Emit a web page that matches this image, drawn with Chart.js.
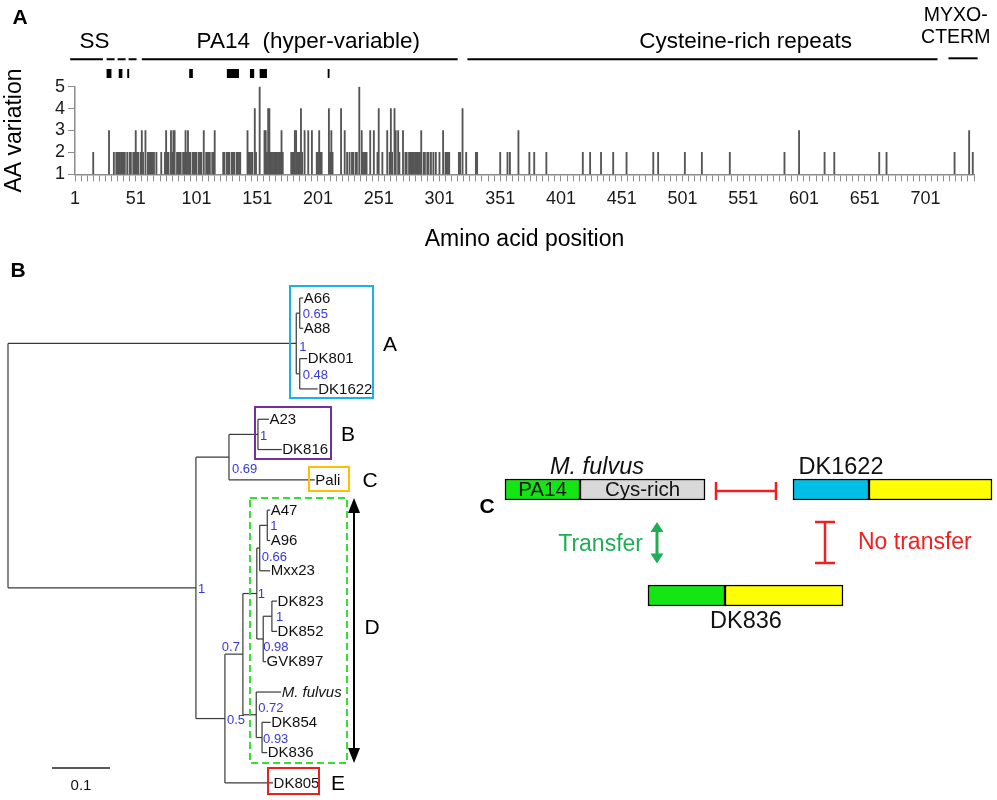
<!DOCTYPE html>
<html><head><meta charset="utf-8">
<script src="https://cdn.jsdelivr.net/npm/chart.js@4.4.1/dist/chart.umd.min.js"></script>
<style>
html,body{margin:0;padding:0;background:#fff;}
#wrap{position:relative;width:997px;height:800px;overflow:hidden;background:#fff;}
canvas{position:absolute;}
</style></head><body>
<div id="wrap">
<canvas id="cA" width="997" height="255" style="left:0;top:0;width:997px;height:255px"></canvas>
<canvas id="cB" width="440" height="545" style="left:0;top:255px;width:440px;height:545px"></canvas>
<canvas id="cC" width="527" height="230" style="left:470px;top:430px;width:527px;height:230px"></canvas>
</div>
<script>
// ---------------- Panel A data ----------------
const aaPositions = [
  16,29,33,35,36,37,38,39,40,41,42,44,46,47,49,50,51,52,53,55,56,57,59,61,62,63,64,65,66,68,
  72,75,76,77,78,80,81,82,83,
  85,86,87,88,90,91,92,93,94,95,96,98,99,100,101,103,104,105,107,
  109,110,111,112,114,115,116,
  123,124,126,127,128,130,131,132,134,135,136,137,
  143,144,145,146,147,149,150,153,
  157,158,159,160,161,162,163,164,165,166,167,168,169,170,171,172,
  179,180,181,182,183,184,185,186,187,188,190,193,196,
  200,201,202,203,204,210,211,212,213,
  220,223,225,227,229,230,232,233,235,237,238,239,240,241,244,
  247,250,251,254,258,260,261,262,264,265,267,268,271,
  273,274,276,277,278,279,280,281,282,283,284,285,286,
  288,289,291,292,294,296,298,301,304,306,307,308,309,
  317,318,320,323,331,332,351,357,359,366,375,
  379,389,419,425,434,444,455,477,481,503,
  517,540,585,597,618,626,663,669,725,737,740
];
const aaVariation = [
  2,3,2,2,2,2,2,2,2,2,2,2,2,2,2,2,3,2,2,2,3,2,3,2,2,2,2,2,2,2,
  2,2,3,2,2,3,2,3,3,
  2,2,2,2,2,2,3,2,3,2,2,2,2,2,2,2,2,2,3,
  2,2,2,2,2,2,3,
  2,2,2,2,2,2,2,2,2,2,2,2,
  3,2,2,2,2,4,2,5,
  3,3,2,4,4,2,2,2,2,2,2,2,2,2,3,2,
  2,2,2,3,3,2,2,2,4,2,3,3,3,
  2,2,3,2,2,4,2,3,2,
  4,3,2,2,2,2,2,2,5,3,2,2,2,2,3,
  3,2,4,2,3,2,4,2,4,3,3,2,3,
  2,2,2,2,2,2,2,2,2,2,2,2,3,
  2,2,2,2,2,2,2,2,3,2,2,2,2,
  2,2,4,2,2,2,2,2,2,3,2,
  2,2,2,2,2,2,2,2,2,2,
  2,2,2,3,2,2,2,2,2,3,2
];
const xTickLabels = [1,51,101,151,201,251,301,351,401,451,501,551,601,651,701];
const yTickValues = [1,2,3,4,5];
const xMinorStep = 5;
const domainNames = ['SS', '', 'PA14  (hyper-variable)', 'Cysteine-rich repeats', 'MYXO-|CTERM'];
const domainStart = [-3, 27, 56, 324, 720];
const domainEnd   = [24, 54, 316, 711, 744];
const domainLabelAt = [17, null, 193, 553, 726];
const hvStart = [27, 37, 44, 95, 126, 145, 153, 209];
const hvEnd   = [31, 40, 45.6, 98, 136, 148.5, 159, 210.5];

// ---------------- Panel B data (tree) ----------------
const treeNodes   = ['root','nA','nA1','A66','A88','nA2','DK801','DK1622','nBCDE','nBC','nB','A23','DK816','Pali','nDE','nD','nD1','nD1a','nD1aa','A47','A96','Mxx23','nD1b','nD1ba','DK823','DK852','GVK897','nMf','M. fulvus','nMf2','DK854','DK836','DK805'];
const treeParent  = [null,'root','nA','nA1','nA1','nA','nA2','nA2','root','nBCDE','nBC','nB','nB','nBC','nBCDE','nDE','nD','nD1','nD1a','nD1aa','nD1aa','nD1a','nD1','nD1b','nD1ba','nD1ba','nD1b','nD','nMf','nMf','nMf2','nMf2','nDE'];
const treeDepth   = [0,0.497,0.503,0.509,0.509,0.503,0.516,0.534,0.324,0.381,0.431,0.450,0.472,0.529,0.374,0.405,0.429,0.434,0.447,0.452,0.452,0.452,0.440,0.455,0.464,0.464,0.445,0.428,0.471,0.438,0.453,0.447,0.457];
const treeSupport = ['','1','0.65','','','0.48','','','1','0.69','1','','','','0.5','0.7','1','0.66','1','','','','0.98','1','','','','0.72','','0.93','','',''];
const cladeNames  = ['A','B','C','D','E'];

// ---------------- Panel C data ----------------
const segRow   = [1, 1, 1, 1, 2, 2];
const segStart = [0, 75, 288, 364, 143, 220];
const segEnd   = [75, 200, 364, 487, 220, 338];
const segText  = ['PA14', 'Cys-rich', '', '', '', ''];
const strainNames = ['M. fulvus', 'DK1622', 'DK836'];

// ---------------- layout / style ----------------
const FONT = "'Liberation Sans', Arial, Helvetica, sans-serif";
const segColor = ['#14e614', '#d9d9d9', '#00bfe6', '#ffff00', '#14e614', '#ffff00'];
const strainLabelPos = [[92, 0.79, true], [336, 0.79, false], [241, 2.25, false]];
const supportOffset = {nA:[3,3.5], nA1:[3,1.5], nA2:[3,1.5], nBCDE:[2,2], nBC:[3,12.5], nB:[2,2], nDE:[2,2], nD:[-3,-7,'right'], nD1:[1,1], nD1a:[2,9], nD1aa:[3,1], nD1b:[0,8.5], nD1ba:[4,1], nMf:[2,-6.5], nMf2:[1,2]};
const cladeBoxes = [
  {x0:0.4862, x1:0.6293, y0:0.604, y1:4.299, color:'#1ab0e8', lx:0.6586, ly:2.551},
  {x0:0.4259, x1:0.5569, y0:4.596, y1:6.312, color:'#7030a0', lx:0.5862, ly:5.520},
  {x0:0.5190, x1:0.5879, y0:6.576, y1:7.368, color:'#ffc000', lx:0.6241, ly:7.038},
  {x0:0.4172, x1:0.5845, y0:7.599, y1:16.342, color:'#33e033', dash:[7,4], lx:0.6276, ly:11.887},
  {x0:0.4483, x1:0.5362, y0:16.507, y1:17.365, color:'#e82020', lx:0.5690, ly:17.034}
];

// ================= Panel A chart =================
const minorTicks = [];
for (let v = 1; v <= 741; v += xMinorStep) minorTicks.push(v);

const headerPlugin = {
  id: 'header',
  afterDraw(chart) {
    const ctx = chart.ctx, sx = chart.scales.x;
    const X = v => sx.getPixelForValue(v);
    ctx.save();
    ctx.strokeStyle = '#000';
    ctx.lineWidth = 2;
    domainStart.forEach((s, i) => {
      ctx.setLineDash(i === 1 ? [8, 3] : []);
      const yy = i === 4 ? 58.3 : 59.3;
      ctx.beginPath(); ctx.moveTo(X(s), yy); ctx.lineTo(X(domainEnd[i]), yy); ctx.stroke();
    });
    ctx.setLineDash([]);
    ctx.fillStyle = '#000';
    hvStart.forEach((s, i) => {
      const a = X(s), b = X(hvEnd[i]);
      ctx.fillRect(a, 69, Math.max(b - a, 1.5), 9);
    });
    ctx.textAlign = 'center'; ctx.textBaseline = 'middle';
    domainNames.forEach((n, i) => {
      if (!n || domainLabelAt[i] === null) return;
      if (n.indexOf('|') >= 0) {
        const parts = n.split('|');
        ctx.font = `19.5px ${FONT}`;
        ctx.fillText(parts[0], X(domainLabelAt[i]), 15.5);
        ctx.fillText(parts[1], X(domainLabelAt[i]), 37.5);
      } else {
        ctx.font = `22.5px ${FONT}`;
        ctx.fillText(n, X(domainLabelAt[i]), 41.5);
      }
    });
    ctx.font = `bold 21px ${FONT}`;
    ctx.fillText('A', 20, 18);
    ctx.restore();
  }
};

new Chart(document.getElementById('cA'), {
  type: 'bar',
  data: {
    datasets: [{
      data: aaPositions.map((p, i) => ({x: p, y: aaVariation[i]})),
      backgroundColor: '#555555',
      barThickness: 1.2
    }]
  },
  options: {
    responsive: false, animation: false,
    layout: {padding: {top: 86.7, right: 23, left: 0, bottom: 0}},
    plugins: {legend: {display: false}, tooltip: {enabled: false}},
    scales: {
      x: {
        type: 'linear', min: 1, max: 741, offset: false,
        afterBuildTicks: s => { s.ticks = minorTicks.map(v => ({value: v})); },
        afterFit: s => { s.height = 80.7; },
        ticks: {autoSkip: false, maxRotation: 0, minRotation: 0, padding: 7, color: '#1a1a1a',
          font: {size: 18, family: FONT},
          callback: v => xTickLabels.includes(v) ? String(v) : ''},
        grid: {drawOnChartArea: false, drawTicks: true, tickLength: 7, color: '#8c8c8c', offset: false},
        border: {display: true, color: '#8c8c8c', width: 1.5},
        title: {display: true, text: 'Amino acid position', color: '#000', font: {size: 23, family: FONT}, padding: {top: 0, bottom: 2}}
      },
      y: {
        type: 'linear', min: 1, max: 5,
        afterFit: s => { s.width = 75; },
        afterBuildTicks: s => { s.ticks = yTickValues.map(v => ({value: v})); },
        ticks: {autoSkip: false, padding: 3, color: '#1a1a1a', font: {size: 18, family: FONT}},
        grid: {drawOnChartArea: false, drawTicks: true, tickLength: 7, color: '#8c8c8c'},
        border: {display: true, color: '#8c8c8c', width: 1.5},
        title: {display: true, text: 'AA variation', color: '#000', font: {size: 23, family: FONT}, padding: {top: 1, bottom: 0}}
      }
    }
  },
  plugins: [headerPlugin]
});

// ================= Panel B chart (tree) =================
const idx = {};
treeNodes.forEach((n, i) => idx[n] = i);
const children = treeNodes.map(() => []);
treeParent.forEach((p, i) => { if (p !== null) children[idx[p]].push(i); });
const nodeY = new Array(treeNodes.length);
let leafCounter = 0;
(function layout(i) {
  if (children[i].length === 0) { leafCounter += 1; nodeY[i] = leafCounter; return; }
  children[i].forEach(layout);
  const c = children[i];
  nodeY[i] = (nodeY[c[0]] + nodeY[c[c.length - 1]]) / 2;
})(0);

const treeEdges = [];
treeNodes.forEach((n, i) => {
  if (treeParent[i] !== null) {
    const p = idx[treeParent[i]];
    treeEdges.push([{x: treeDepth[p], y: nodeY[i]}, {x: treeDepth[i], y: nodeY[i]}]);
  }
  const c = children[i];
  if (c.length) treeEdges.push([{x: treeDepth[i], y: nodeY[c[0]]}, {x: treeDepth[i], y: nodeY[c[c.length - 1]]}]);
});

const treePlugin = {
  id: 'treeDecor',
  afterDatasetsDraw(chart) {
    const ctx = chart.ctx, sx = chart.scales.x, sy = chart.scales.y;
    const X = v => sx.getPixelForValue(v), Y = v => sy.getPixelForValue(v);
    ctx.save();
    ctx.fillStyle = '#111'; ctx.textBaseline = 'middle'; ctx.textAlign = 'left';
    treeNodes.forEach((n, i) => {
      if (children[i].length) return;
      ctx.font = (n === 'M. fulvus' ? 'italic ' : '') + `15px ${FONT}`;
      ctx.fillText(n, X(treeDepth[i]) + 0.5, Y(nodeY[i]) + 0.5);
    });
    ctx.fillStyle = '#3838d8'; ctx.font = `13px ${FONT}`;
    treeNodes.forEach((n, i) => {
      if (!treeSupport[i]) return;
      const o = supportOffset[n] || [2, 2];
      ctx.textAlign = o[2] === 'right' ? 'right' : 'left';
      ctx.fillText(treeSupport[i], X(treeDepth[i]) + o[0], Y(nodeY[i]) + o[1]);
    });
    cladeBoxes.forEach((b, k) => {
      ctx.strokeStyle = b.color; ctx.lineWidth = 2; ctx.setLineDash(b.dash || []);
      ctx.strokeRect(X(b.x0), Y(b.y0), X(b.x1) - X(b.x0), Y(b.y1) - Y(b.y0));
      ctx.setLineDash([]);
      ctx.fillStyle = '#000'; ctx.font = `21px ${FONT}`; ctx.textAlign = 'center';
      ctx.fillText(cladeNames[k], X(b.lx), Y(b.ly));
    });
    const ax = X(0.5966), ay0 = Y(7.599), ay1 = Y(16.342);
    ctx.strokeStyle = '#000'; ctx.fillStyle = '#000'; ctx.lineWidth = 2;
    ctx.beginPath(); ctx.moveTo(ax, ay0 + 12); ctx.lineTo(ax, ay1 - 12); ctx.stroke();
    ctx.beginPath(); ctx.moveTo(ax, ay0); ctx.lineTo(ax - 6, ay0 + 15); ctx.lineTo(ax + 6, ay0 + 15); ctx.closePath(); ctx.fill();
    ctx.beginPath(); ctx.moveTo(ax, ay1); ctx.lineTo(ax - 6, ay1 - 15); ctx.lineTo(ax + 6, ay1 - 15); ctx.closePath(); ctx.fill();
    const sb0 = 0.0759, sbLen = 0.1;
    ctx.strokeStyle = '#222'; ctx.lineWidth = 1.3;
    ctx.beginPath(); ctx.moveTo(X(sb0), Y(16.507)); ctx.lineTo(X(sb0 + sbLen), Y(16.507)); ctx.stroke();
    ctx.fillStyle = '#111'; ctx.font = `15px ${FONT}`; ctx.textAlign = 'center';
    ctx.fillText(String(sbLen), X(sb0 + sbLen / 2), Y(17.1));
    ctx.font = `bold 21px ${FONT}`; ctx.fillStyle = '#000';
    ctx.fillText('B', 18, 16);
    ctx.restore();
  }
};

new Chart(document.getElementById('cB'), {
  type: 'scatter',
  data: {
    datasets: treeEdges.map(e => ({data: e, showLine: true, borderColor: '#3a3a3a', borderWidth: 1.2, pointRadius: 0, fill: false}))
  },
  options: {
    responsive: false, animation: false,
    layout: {padding: 0},
    plugins: {legend: {display: false}, tooltip: {enabled: false}},
    scales: {
      x: {type: 'linear', min: -0.01379, max: 0.74483, display: false},
      y: {type: 'linear', min: -0.41867, max: 17.5622, reverse: true, display: false}
    }
  },
  plugins: [treePlugin]
});

// ================= Panel C chart =================
const diagramPlugin = {
  id: 'diagram',
  afterDatasetsDraw(chart) {
    const ctx = chart.ctx, sx = chart.scales.x, sy = chart.scales.y;
    const X = v => sx.getPixelForValue(v), Y = v => sy.getPixelForValue(v);
    ctx.save();
    ctx.textAlign = 'center'; ctx.textBaseline = 'middle'; ctx.fillStyle = '#111';
    ctx.font = `20.5px ${FONT}`;
    segText.forEach((t, i) => { if (t) ctx.fillText(t, X((segStart[i] + segEnd[i]) / 2), Y(segRow[i]) + 1); });
    strainNames.forEach((n, i) => {
      const p = strainLabelPos[i];
      ctx.font = (p[2] ? 'italic ' : '') + `23.5px ${FONT}`;
      ctx.fillText(n, X(p[0]), Y(p[1]));
    });
    ctx.strokeStyle = '#f02020'; ctx.lineWidth = 2.5;
    const hx0 = X(211), hx1 = X(271), hy = Y(1.014);
    ctx.beginPath();
    ctx.moveTo(hx0, hy); ctx.lineTo(hx1, hy);
    ctx.moveTo(hx0, hy - 9); ctx.lineTo(hx0, hy + 9);
    ctx.moveTo(hx1, hy - 9); ctx.lineTo(hx1, hy + 9);
    ctx.stroke();
    const vx = X(320), vy0 = Y(1.307), vy1 = Y(1.693);
    ctx.beginPath();
    ctx.moveTo(vx, vy0); ctx.lineTo(vx, vy1);
    ctx.moveTo(vx - 10, vy0); ctx.lineTo(vx + 10, vy0);
    ctx.moveTo(vx - 10, vy1); ctx.lineTo(vx + 10, vy1);
    ctx.stroke();
    ctx.fillStyle = '#f02020'; ctx.font = `23px ${FONT}`; ctx.textAlign = 'left';
    ctx.fillText('No transfer', X(353), Y(1.50));
    const gx = X(152), gy0 = Y(1.307), gy1 = Y(1.698);
    ctx.strokeStyle = '#1fae54'; ctx.fillStyle = '#1fae54'; ctx.lineWidth = 3;
    ctx.beginPath(); ctx.moveTo(gx, gy0 + 8); ctx.lineTo(gx, gy1 - 8); ctx.stroke();
    ctx.beginPath(); ctx.moveTo(gx, gy0); ctx.lineTo(gx - 6.5, gy0 + 10); ctx.lineTo(gx + 6.5, gy0 + 10); ctx.closePath(); ctx.fill();
    ctx.beginPath(); ctx.moveTo(gx, gy1); ctx.lineTo(gx - 6.5, gy1 - 10); ctx.lineTo(gx + 6.5, gy1 - 10); ctx.closePath(); ctx.fill();
    ctx.textAlign = 'right';
    ctx.fillText('Transfer', X(138), Y(1.52));
    ctx.fillStyle = '#000'; ctx.font = `bold 21px ${FONT}`; ctx.textAlign = 'center';
    ctx.fillText('C', 17, 77);
    ctx.restore();
  }
};

new Chart(document.getElementById('cC'), {
  type: 'bar',
  data: {
    datasets: [{
      data: segRow.map((r, i) => ({y: r, x: [segStart[i], segEnd[i]]})),
      backgroundColor: segColor,
      borderColor: '#000', borderWidth: 1.5, borderSkipped: false,
      barThickness: 21
    }]
  },
  options: {
    indexAxis: 'y',
    responsive: false, animation: false,
    layout: {padding: {top: 6.5, bottom: 11.5, left: 0, right: 0}},
    plugins: {legend: {display: false}, tooltip: {enabled: false}},
    scales: {
      x: {type: 'linear', min: -35, max: 492, display: false},
      y: {type: 'linear', min: 0.5, max: 2.5, reverse: true, display: false, offset: false}
    }
  },
  plugins: [diagramPlugin]
});
</script>
</body></html>
